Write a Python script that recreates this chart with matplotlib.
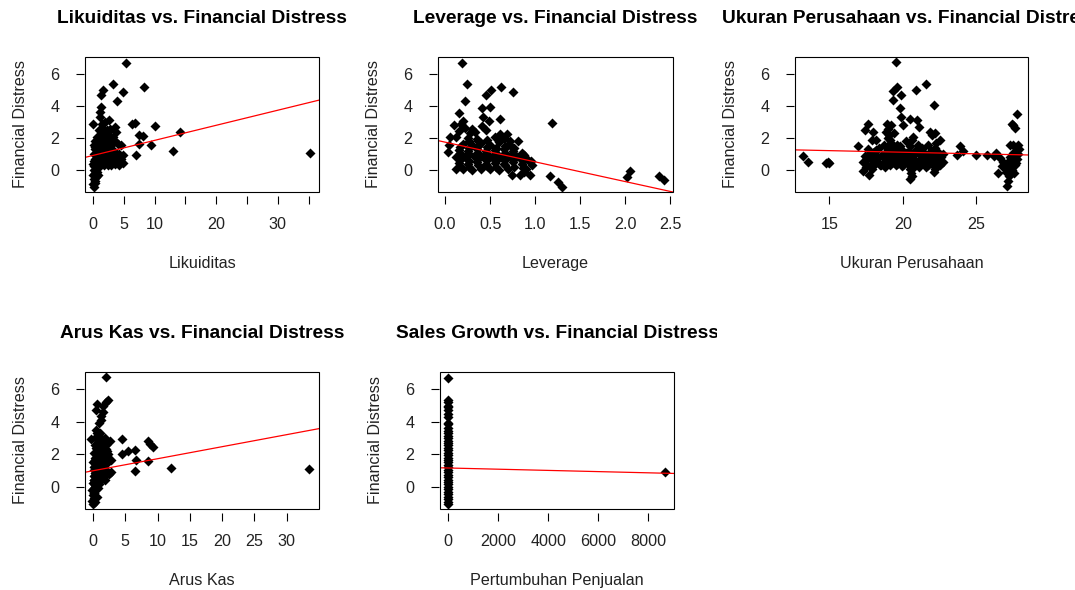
import matplotlib
matplotlib.use("Agg")
import matplotlib.pyplot as plt
from matplotlib.patches import Rectangle
from matplotlib.transforms import Bbox, TransformedBbox

plt.rcParams['font.family'] = ['Liberation Sans', 'DejaVu Sans']

# ---- data ----------------------------------------------------------------
# Likuiditas vs. Financial Distress
likuiditas_x = [0.2, 0.0, 0.3, 0.1, 0.5, 0.0, 0.3, 0.7, 0.1, 0.5, 0.9, 0.2,
                0.0, 0.6, 1.2, 1.8, 2.4, 3.0, 3.6, 4.2, 4.8,
                0.3, 0.9, 1.5, 2.1, 2.7, 3.3, 3.9, 4.6,
                0.1, 0.7, 1.3, 1.9, 2.5, 3.1, 4.2, 4.9,
                0.4, 1.0, 1.6, 2.2, 2.8, 3.4,
                0.1, 0.7, 1.3, 1.9, 2.5, 3.0, 4.1, 4.5,
                0.4, 1.0, 1.6, 2.2, 2.8, 3.5,
                0.6, 1.2, 1.8, 2.4, 3.2, 3.8,
                1.0, 1.6, 2.2, 2.8, 3.5,
                1.5, 2.0, 2.6, 1.2, 1.1, 1.3,
                0.4, 0.8, 0.2, 0.6, 1.0, 0.3, 0.7, 1.5, 2.7, 3.9,
                5.4, 3.2, 4.8, 8.3, 3.95, 1.6, 1.3, 0.0, 6.4, 6.8, 10.1,
                7.4, 8.1, 7.5, 9.4, 7.0, 12.95, 14.2, 35.3]
likuiditas_y = [-1.05, -0.85, -0.7, -0.55, -0.45, -0.3, -0.2, -0.1, 0.0, 0.1, 0.2, 0.25,
                0.4, 0.4, 0.35, 0.3, 0.35, 0.3, 0.4, 0.35, 0.45,
                0.7, 0.65, 0.7, 0.6, 0.7, 0.6, 0.65, 0.7,
                1.0, 0.95, 1.0, 0.9, 1.0, 0.95, 1.0, 0.95,
                1.3, 1.25, 1.3, 1.2, 1.3, 1.2,
                1.6, 1.55, 1.6, 1.5, 1.6, 1.55, 1.65, 1.55,
                1.85, 1.9, 1.85, 1.8, 1.95, 1.8,
                2.1, 2.2, 2.1, 2.25, 2.1, 2.4,
                2.5, 2.6, 2.5, 2.6, 2.67,
                2.85, 3.0, 3.1, 3.3, 3.6, 3.95,
                -0.8, -0.3, 0.55, 0.15, 0.5, 1.45, 1.7, 0.5, 0.45, 0.85,
                6.7, 5.37, 4.9, 5.2, 4.3, 5.0, 4.67, 2.9, 2.85, 2.95, 2.75,
                2.2, 2.15, 1.65, 1.55, 0.93, 1.17, 2.4, 1.07]

# Leverage vs. Financial Distress
leverage_x = [0.12, 0.2, 0.3, 0.4, 0.5, 0.6, 0.7,
              0.15, 0.25, 0.35, 0.45, 0.55, 0.65, 0.75, 0.85,
              0.12, 0.22, 0.32, 0.42, 0.52, 0.62, 0.72, 0.82, 0.92,
              0.15, 0.25, 0.35, 0.45, 0.55, 0.65, 0.75, 0.85,
              0.2, 0.3, 0.4, 0.5, 0.6, 0.7, 0.81,
              0.12, 0.25, 0.35, 0.55, 0.65,
              0.17, 0.27, 0.37, 0.47, 0.57, 0.67, 0.77, 0.87,
              0.17, 0.27, 0.37, 0.47, 0.57, 0.67, 0.77, 0.87,
              0.17, 0.27, 0.37, 0.47, 0.57, 0.67, 0.77, 0.88,
              0.17, 0.27, 0.37, 0.47, 0.57, 0.67, 0.77,
              0.27, 0.37, 0.47, 0.6, 0.72,
              0.1, 0.15, 0.2, 0.22, 0.28, 0.33, 0.18, 0.3,
              0.41, 0.42, 0.49, 0.46, 0.61, 0.61, 0.69, 0.74,
              0.83, 0.94, 0.74, 0.9, 0.96, 0.95, 0.88,
              0.03, 0.04, 0.06,
              0.185, 0.24, 0.22, 0.15, 0.62, 0.51, 0.46, 0.75, 0.5, 0.41,
              1.19, 1.16, 1.25, 1.30, 2.02, 2.05, 2.37, 2.43]
leverage_y = [0.1, 0.05, 0.0, 0.1, 0.05, 0.0, 0.1,
              0.45, 0.4, 0.5, 0.4, 0.45, 0.4, 0.5, 0.4,
              0.85, 0.8, 0.9, 0.8, 0.85, 0.8, 0.9, 0.8, 0.65,
              1.25, 1.2, 1.3, 1.2, 1.25, 1.3, 1.2, 1.1,
              1.65, 1.6, 1.7, 1.6, 1.75, 1.55, 1.79,
              2.05, 2.0, 1.95, 2.1, 2.0,
              0.25, 0.2, 0.3, 0.25, 0.2, 0.3, 0.2, 0.15,
              0.65, 0.6, 0.7, 0.65, 0.6, 0.65, 0.7, 0.6,
              1.05, 1.0, 1.1, 1.0, 1.05, 1.1, 1.0, 0.95,
              1.45, 1.4, 1.5, 1.45, 1.4, 1.5, 1.4,
              1.85, 1.8, 1.9, 1.85, 1.8,
              2.8, 2.45, 3.08, 2.66, 2.3, 2.37, 2.9, 2.6,
              2.78, 3.33, 3.08, 2.5, 3.19, 2.27, 2.26, 1.44,
              -0.31, -0.31, -0.31, 0.1, 0.3, 0.6, -0.1,
              1.13, 1.55, 2.05,
              6.7, 5.37, 4.3, 3.55, 5.2, 4.98, 4.67, 4.9, 3.95, 3.85,
              2.92, -0.35, -0.72, -1.05, -0.41, -0.05, -0.37, -0.6]

# Ukuran Perusahaan vs. Financial Distress
ukuran_x = [17.3, 17.4, 17.5, 17.6, 17.8, 17.9, 18.0, 18.1, 18.3, 18.4, 18.5,
            18.6, 18.7, 18.8, 18.9, 19.0, 19.0, 19.1, 19.2, 19.2, 19.3, 19.4,
            19.5, 19.6, 19.6, 19.7, 19.8, 19.9, 20.0, 20.1, 20.2, 20.3, 20.4,
            20.5, 20.5, 20.6, 20.7, 20.8, 20.8, 20.9, 21.0, 21.1, 21.2, 21.3,
            21.4, 21.5, 21.6, 21.7, 21.8, 21.9, 22.0, 22.1, 22.2, 22.3, 22.4,
            22.5, 22.6, 22.7, 18.2, 19.4, 19.0, 19.2,
            17.45, 17.7, 17.95, 18.2, 18.45, 18.7, 18.95, 19.2, 19.45, 19.7, 19.95,
            20.2, 20.45, 20.7, 20.95, 21.2, 21.45, 21.7, 21.95, 22.2, 22.45, 22.7,
            17.55, 17.8, 18.05, 18.3, 18.55, 18.8, 19.05, 19.3, 19.55, 19.8, 20.05,
            20.3, 20.55, 20.8, 21.05, 21.3, 21.55, 21.8, 22.05, 22.3, 22.55,
            19.0, 19.05, 18.95, 20.55, 20.6, 20.65, 22.2, 22.25, 22.15,
            26.6, 26.8, 26.9, 27.0, 27.06, 27.13, 27.18, 27.2, 27.3, 27.3,
            27.4, 27.45, 27.5, 27.55, 27.6, 27.65, 27.7, 27.75, 27.8, 27.3,
            27.5, 27.85, 27.4, 27.63, 27.74, 27.5, 27.2, 27.45, 27.7, 27.9,
            13.23, 13.53, 14.8, 15.0, 14.9, 16.97, 17.43, 17.65, 18.0, 17.9,
            17.27, 17.7, 19.51, 19.3, 19.58, 19.3, 19.85, 19.8, 19.85, 20.03,
            20.87, 21.6, 22.1, 20.49, 20.94, 21.1, 18.9, 18.85, 19.1, 21.85,
            21.96, 22.5, 20.6, 20.5, 22.1, 23.9, 24.1, 23.66, 24.95, 25.7,
            26.16, 26.3, 26.43, 26.7]
ukuran_y = [0.5, 0.9, 0.2, 1.3, 0.7, 0.1, 1.1, 0.4, 0.8, 1.4, 0.3,
            0.9, 1.6, 0.5, 1.2, 0.7, 2.0, 0.3, 1.0, 1.7, 0.5, 1.3,
            0.8, 0.4, 1.6, 1.0, 0.6, 1.3, 0.3, 0.9, 1.8, 0.5, 1.2,
            0.1, 1.5, 0.7, 2.1, 0.3, 1.1, 0.6, 1.6, 0.2, 0.9, 1.3,
            0.5, 1.0, 0.3, 1.6, 0.7, 1.2, 0.4, 0.9, 1.4, 0.6, 1.1,
            0.3, 0.8, 1.0, 1.9, 2.3, 2.6, 2.8,
            0.45, 1.0, 0.6, 1.25, 0.35, 0.8, 1.45, 0.55, 1.1, 0.75, 0.25,
            1.05, 0.65, 0.4, 1.3, 0.55, 0.85, 0.35, 0.95, 0.6, 0.75, 0.5,
            0.75, 0.3, 1.15, 0.5, 0.95, 0.2, 1.1, 0.6, 0.3, 1.5, 0.65,
            0.45, 0.9, 1.2, 0.5, 1.4, 0.2, 1.0, 0.55, 1.2, 0.4,
            1.5, 2.2, 0.4, -0.2, 0.1, 1.9, 0.1, 1.7, 2.3,
            0.75, 0.5, 0.2, -0.1, -0.99, -0.68, -0.37, 0.1, 0.4, 0.8,
            0.0, 1.1, 0.6, -0.2, 0.9, 0.3, 1.2, 0.7, 1.58, 1.58,
            1.55, 1.0, 2.9, 2.65, 3.53, 2.8, 0.6, 0.35, 0.45, 1.3,
            0.9, 0.51, 0.45, 0.45, 0.5, 1.48, 2.5, 2.88, 2.4, 1.9,
            -0.06, -0.27, 6.75, 4.97, 5.2, 4.35, 4.7, 3.88, 3.33, 2.8,
            5.0, 5.38, 4.04, 3.22, 3.1, 2.7, 2.9, 2.4, 1.9, 2.4,
            2.2, 1.9, -0.37, -0.57, -0.12, 1.48, 1.17, 0.97, 0.92, 0.97,
            0.86, 1.1, -0.16, 0.25]

# Arus Kas vs. Financial Distress
arus_kas_x = [0.0, -0.1, 0.1, 0.0, 0.2, -0.1, 0.1, 0.3, 0.0, 0.4, 0.15, 0.6,
              0.1, 0.5, 0.9, 0.3, 0.8, 1.3, 0.1, 0.6, 1.1, 1.6, 0.3, 0.9,
              1.5, 2.0, 0.0, 0.6, 1.2, 1.9, 0.3, 0.9, 1.5, 2.2, 0.1, 0.7,
              1.3, 2.17, 0.4, 1.0, 1.6, 2.0, 0.7, 1.3, 2.59, 0.4, 1.0, 0.5,
              0.9, 1.2, 2.4, 2.8, 1.8, 1.0, 0.6, 2.3, 1.8, 1.1, 1.6,
              0.3, 0.6, 0.2, 0.7, 0.4, 0.9, 0.2, 1.1, 0.6, 1.4, 0.3, 0.9,
              1.6, 0.5, 1.2, 1.9, 0.2, 0.8, 1.5, 2.1, 0.5, 1.1, 1.7, 0.3,
              0.8, 1.4, 2.0, 0.6, 1.2, 0.3, 0.8, 0.6,
              1.97, 2.3, 1.97, 1.55, 0.62, 0.41, 1.3, -0.26, 4.55, 8.54,
              8.8, 9.3, 6.47, 5.43, 4.55, 2.85, 6.6, 8.54, 6.47, 12.05, 33.5]
arus_kas_y = [-1.05, -0.85, -0.7, -0.5, -0.35, -0.2, -0.05, 0.1, 0.25, 0.3, 0.45, 0.5,
              0.65, 0.7, 0.6, 0.85, 0.9, 0.7, 1.05, 1.1, 1.0, 0.8, 1.3, 1.35,
              1.2, 0.75, 1.55, 1.6, 1.55, 1.4, 1.8, 1.9, 1.8, 1.7, 2.1, 2.15,
              2.1, 2.22, 2.4, 2.45, 2.4, 2.6, 2.75, 2.8, 2.8, 3.05, 3.1, 3.5,
              3.9, 4.1, 0.8, 0.9, 0.4, 0.3, 0.1, 2.0, 3.0, 3.3, 4.6,
              -0.9, -0.6, -0.4, -0.1, 0.05, 0.2, 0.4, 0.45, 0.55, 0.55, 0.75, 0.85,
              1.0, 0.95, 1.15, 1.1, 1.2, 1.25, 1.4, 1.45, 1.45, 1.7, 1.6, 1.65,
              2.0, 1.95, 2.3, 2.3, 2.55, 2.6, 2.9, 3.3,
              6.76, 5.36, 5.2, 4.95, 5.1, 4.7, 4.33, 2.96, 2.96, 2.8,
              2.63, 2.42, 2.28, 2.18, 2.01, 1.66, 1.66, 1.56, 0.95, 1.19, 1.11]

# Sales Growth (Pertumbuhan Penjualan) vs. Financial Distress
sales_growth_x = [0.1, -0.3, 0.4, 0.2, -0.1, 0.6, 0.0, 0.3, -0.2, 0.5, 0.1, 0.8,
                  -0.4, 0.2, 0.7, 0.0, 0.3, -0.1, 0.9, 0.2, 0.4, -0.3, 0.1, 0.6,
                  0.0, 0.5, -0.2, 0.3, 0.1, 0.7, -0.1, 0.2, 0.4, 0.0, 0.3, 0.1,
                  -0.2, 0.5, 0.2, 0.0, 0.3, 0.1, 8680]
sales_growth_y = [-1.05, -0.9, -0.75, -0.6, -0.45, -0.3, -0.15, 0.0, 0.15, 0.3, 0.45, 0.6,
                  0.75, 0.9, 1.05, 1.2, 1.35, 1.5, 1.65, 1.8, 1.95, 2.1, 2.25, 2.4,
                  2.55, 2.7, 2.85, 3.0, 3.15, 3.3, 3.45, 3.6, 3.85, 3.95, 4.3, 4.5,
                  4.7, 4.9, 5.0, 5.2, 5.35, 6.7, 0.9]

# fitted lines (intercept, slope) as drawn in red
fit_intercept = [0.92, 1.75, 1.52, 0.99, 1.16]
fit_slope = [0.094, -1.23, -0.020, 0.074, -0.000037]

titles = ["Likuiditas vs. Financial Distress",
          "Leverage vs. Financial Distress",
          "Ukuran Perusahaan vs. Financial Distress",
          "Arus Kas vs. Financial Distress",
          "Sales Growth vs. Financial Distress"]
xlabels = ["Likuiditas", "Leverage", "Ukuran Perusahaan", "Arus Kas",
           "Pertumbuhan Penjualan"]
xticks = [[0, 5, 10, 15, 20, 25, 30, 35],
          [0.0, 0.5, 1.0, 1.5, 2.0, 2.5],
          [15, 20, 25],
          [0, 5, 10, 15, 20, 25, 30],
          [0, 2000, 4000, 6000, 8000]]
xticklabels = [["0", "5", "10", "", "20", "", "30", ""],
               ["0.0", "0.5", "1.0", "1.5", "2.0", "2.5"],
               ["15", "20", "25"],
               ["0", "5", "10", "15", "20", "25", "30"],
               ["0", "2000", "4000", "6000", "8000"]]
yticks = [0, 2, 4, 6]

xs = [likuiditas_x, leverage_x, ukuran_x, arus_kas_x, sales_growth_x]
ys = [likuiditas_y, leverage_y, ukuran_y, arus_kas_y, sales_growth_y]

# ---- layout (pixels of a 1075 x 590 canvas) --------------------------------
W, H = 1075, 590
xlims = [(-1.3, 36.7), (-0.078, 2.53), (12.67, 28.5), (-1.24, 35.0), (-333, 9027)]
boxes = [(85, 57, 234, 135), (438, 57, 235, 135), (795, 57, 233, 135),
         (85, 372, 234, 137), (440, 372, 234, 137)]

fig = plt.figure(figsize=(W / 100, H / 100), dpi=100)
txt = '#222222'

for i in range(5):
    left, top, w, h = boxes[i]
    ax = fig.add_axes([left / W, 1 - (top + h) / H, w / W, h / H])

    ax.scatter(xs[i], ys[i], marker='D', s=26, color='black', linewidths=0, zorder=2)
    ax.axline((0, fit_intercept[i]), slope=fit_slope[i], color='red', lw=0.9, zorder=3)

    ax.set_xlim(*xlims[i])
    ax.set_ylim(-1.36, 7.06)
    ax.set_xticks(xticks[i])
    ax.set_xticklabels(xticklabels[i])
    ax.set_yticks(yticks)
    ax.set_yticklabels([str(v) for v in yticks], rotation=90, va='center')

    # R style: box around the plot, ticks hanging a little off it
    for s in ax.spines.values():
        s.set_visible(False)
    ax.spines['bottom'].set_position(('outward', 3))
    ax.spines['left'].set_position(('outward', 1))
    ax.add_patch(Rectangle((0, 0), 1, 1, transform=ax.transAxes, fill=False,
                           ec='black', lw=0.8, clip_on=False, zorder=4))
    ax.tick_params(direction='out', length=5.8, width=0.8, color='black',
                   labelsize=11.6, labelcolor=txt)
    ax.tick_params(axis='x', pad=9)
    ax.tick_params(axis='y', pad=11.5)

    ax.set_xlabel(xlabels[i], fontsize=11.6, color=txt, va='top')
    ax.xaxis.set_label_coords(0.5, -64 / h)
    ax.set_ylabel("Financial Distress", fontsize=11.6, color=txt)
    ax.yaxis.set_label_coords(-57 / w, 0.5)

    t = ax.set_title(titles[i], fontsize=13.8, fontweight='bold', pad=24.5)
    col = i % 3
    region = TransformedBbox(Bbox([[col / 3, 0], [(col + 1) / 3, 1]]), fig.transFigure)
    t.set_clip_box(region)
    t.set_clip_on(True)

fig.savefig("out.png", dpi=100, facecolor='white')
